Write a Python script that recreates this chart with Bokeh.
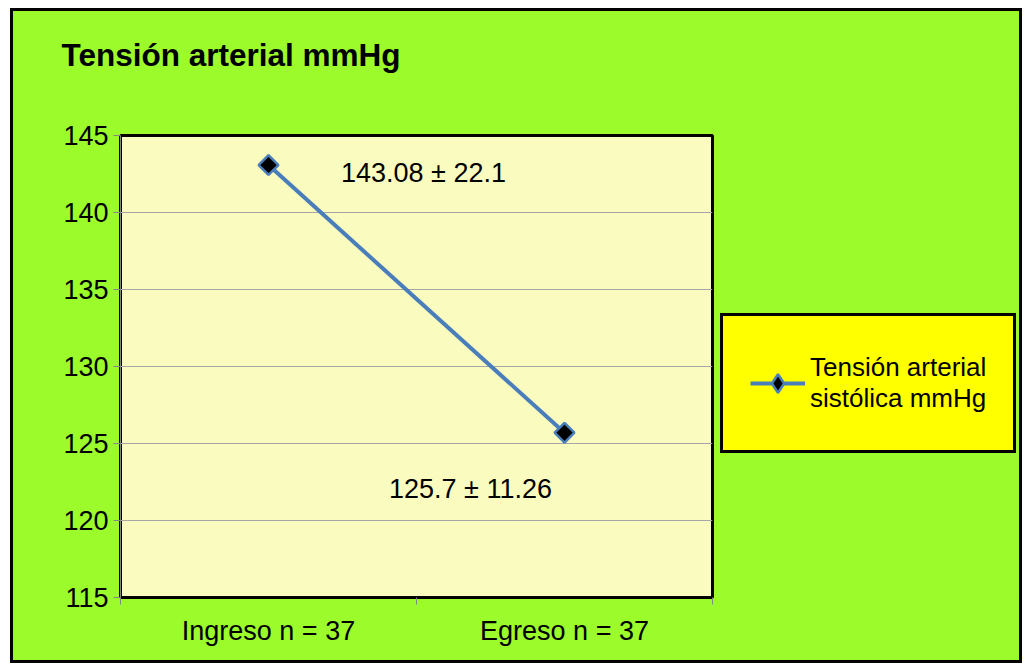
import math
from bokeh.plotting import figure
from bokeh.models import (Range1d, FixedTicker, Legend, LegendItem,
                          ColumnDataSource)
from bokeh.layouts import column, row
from bokeh.core.properties import value
from bokeh.embed import file_html
from bokeh.resources import INLINE

# ---- data ----
categories = ["Ingreso n = 37", "Egreso n = 37"]
means = [143.08, 125.7]
sds = [22.1, 11.26]
y_ticks = [115, 120, 125, 130, 135, 140, 145]
series_name = "Tensión arterial\nsistólica mmHg"
title_text = "Tensión arterial mmHg"

# ---- styles ----
FONT = "Liberation Sans"
GREEN = "#9BFB2B"
PLOT_BG = "#FAFBBE"
BLUE = "#4A7EBB"
GRID = "#A6A6A6"
label_x_offsets = [155, -94]
label_y_offsets = [8, 56]

xpos = [i + 0.5 for i in range(len(categories))]
src = ColumnDataSource(dict(
    x=xpos, y=means,
    txt=[f"{m} ± {s}" for m, s in zip(means, sds)],
    xo=label_x_offsets, yo=label_y_offsets,
))


def bare(fig):
    fig.min_border = 0
    fig.border_fill_color = GREEN
    fig.background_fill_color = GREEN
    fig.outline_line_color = None
    fig.grid.grid_line_color = None
    return fig


# ---- title strip ----
p_top = bare(figure(width=1006, height=100, output_backend="svg", toolbar_location=None,
                    x_axis_type=None, y_axis_type=None))
p_top.title.text = title_text
p_top.title.text_font = FONT
p_top.title.text_font_style = "bold"
p_top.title.text_font_size = "31.5px"
p_top.title.text_color = "black"
p_top.title.align = "left"
p_top.title.offset = 48
p_top.title.standoff = 46

# ---- main chart ----
p = figure(width=703, height=549, output_backend="svg", toolbar_location=None,
           x_range=Range1d(0, len(categories)), y_range=Range1d(y_ticks[0], y_ticks[-1]))
p.min_border_left = 107
p.min_border_right = 4
p.min_border_top = 24
p.min_border_bottom = 63
p.border_fill_color = GREEN
p.background_fill_color = PLOT_BG
p.outline_line_color = "black"
p.outline_line_width = 3

p.yaxis.ticker = FixedTicker(ticks=y_ticks)
p.yaxis.axis_line_color = "#868686"
p.yaxis.major_tick_line_color = "#868686"
p.yaxis.major_tick_out = 7
p.yaxis.major_tick_in = 0
p.yaxis.minor_tick_line_color = None
p.yaxis.major_label_text_font = FONT
p.yaxis.major_label_text_font_size = "27px"
p.yaxis.major_label_text_color = "black"
p.yaxis.major_label_standoff = 5

p.xaxis.ticker = FixedTicker(ticks=xpos, minor_ticks=list(range(len(categories) + 1)))
p.xaxis.major_label_overrides = {x: c for x, c in zip(xpos, categories)}
p.xaxis.major_tick_line_color = None
p.xaxis.major_tick_out = 0
p.xaxis.major_tick_in = 0
p.xaxis.minor_tick_line_color = "#868686"
p.xaxis.minor_tick_out = 7
p.xaxis.minor_tick_in = 0
p.xaxis.axis_line_color = "black"
p.xaxis.axis_line_width = 3
p.xaxis.major_label_text_font = FONT
p.xaxis.major_label_text_font_size = "27px"
p.xaxis.major_label_text_color = "black"
p.xaxis.major_label_standoff = 11

p.xgrid.grid_line_color = None
p.ygrid.ticker = FixedTicker(ticks=y_ticks)
p.ygrid.grid_line_color = GRID
p.ygrid.grid_line_width = 1

line_kw = dict(line_color=BLUE, line_width=4)
marker_kw = dict(fill_color="black", line_color=BLUE, line_width=2.5)

p.line("x", "y", source=src, **line_kw)
p.scatter("x", "y", source=src, marker="square", size=14, angle=math.pi / 4, **marker_kw)
p.text("x", "y", text="txt", source=src, x_offset="xo", y_offset="yo",
       text_font=value(FONT), text_font_size="27px", text_color="black",
       text_align="center", text_baseline="middle")

# ---- legend strip (same series, drawn out of view; only its legend shows) ----
p_leg = bare(figure(width=303, height=549, output_backend="svg", toolbar_location=None,
                    x_axis_type=None, y_axis_type=None,
                    x_range=Range1d(10, 11), y_range=Range1d(10, 11)))
lr = p_leg.line("x", "y", source=src, **line_kw)
sr = p_leg.scatter("x", "y", source=src, marker="diamond", size=14, **marker_kw)
legend = Legend(items=[LegendItem(label=series_name, renderers=[lr, sr])],
                location=(4, 144), margin=0, padding=27,
                glyph_width=55, glyph_height=46, label_standoff=5,
                label_height=80,
                label_text_font=FONT, label_text_font_size="26px",
                label_text_color="black",
                background_fill_color="#FFFF00", background_fill_alpha=1,
                border_line_color="black", border_line_width=3, border_line_alpha=1)
p_leg.add_layout(legend, "center")

green_bg = {"background-color": GREEN}
body = column(p_top, row(p, p_leg, styles=green_bg), styles=green_bg)
inner = column(body, styles={"padding": "3px", "background-color": "black"})
layout = column(inner, styles={"padding": "8px 9px 5px 10px", "background-color": "white"})

open("out.html", "w").write(file_html(layout, INLINE))
